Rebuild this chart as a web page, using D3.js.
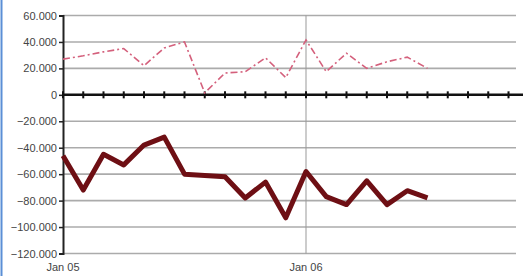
<!DOCTYPE html>
<html>
<head>
<meta charset="utf-8">
<script src="https://cdn.jsdelivr.net/npm/d3@7"></script>
<style>
  body { margin: 0; background: #fff; }
  svg { display: block; font-family: "Liberation Sans", Arial, sans-serif; }
</style>
</head>
<body>
<svg id="chart"></svg>
<script>
// month index 0 = Jan 05
const months = d3.range(0, 19);
const solidValues = [-46000, -72000, -45000, -53000, -38000, -32000, -60000, -61000, -62000,
  -78000, -66000, -93000, -58000, -77000, -83000, -65000, -83000, -72500, -78000];
const dashedValues = [27000, 29500, 32500, 35000, 22000, 35500, 40000, 1500, 16500,
  17500, 28000, 13000, 41500, 17500, 31500, 20000, 25000, 28500, 20000];
const yTicks = [60000, 40000, 20000, 0, -20000, -40000, -60000, -80000, -100000, -120000];
const xLabels = [{ m: 0, label: "Jan 05" }, { m: 12, label: "Jan 06" }];

const width = 523, height = 276;
const margin = { top: 15, left: 63, bottom: 253 };

const svg = d3.select("#chart").attr("width", width).attr("height", height);

const x = d3.scaleLinear().domain([0, 24]).range([margin.left, margin.left + 24 * 20.25]);
const y = d3.scaleLinear().domain([-120000, 60000]).range([253.5, 15.5]);

const fmt = d3.formatLocale({ decimal: ",", thousands: ".", grouping: [3], currency: ["", ""] }).format(",");

// blue frame on the left
svg.append("line")
  .attr("x1", 1.5).attr("x2", 1.5).attr("y1", 0).attr("y2", height)
  .attr("stroke", "#5b8fd6").attr("stroke-width", 2);

// horizontal gridlines
svg.append("g").selectAll("line")
  .data(yTicks.filter(d => d !== 0))
  .join("line")
  .attr("x1", margin.left).attr("x2", 516)
  .attr("y1", d => y(d)).attr("y2", d => y(d))
  .attr("stroke", "#ababab").attr("stroke-width", 1.6);

// vertical gridline at Jan 06
svg.append("line")
  .attr("x1", x(12)).attr("x2", x(12))
  .attr("y1", y(60000)).attr("y2", y(-120000))
  .attr("stroke", "#999").attr("stroke-width", 1);

// y axis
const yAxis = d3.axisLeft(y).tickValues(yTicks).tickFormat(fmt).tickSize(4).tickPadding(2);
const yG = svg.append("g").attr("transform", `translate(${margin.left},0)`).call(yAxis);
yG.select(".domain").attr("stroke", "#222").attr("stroke-width", 2);
yG.selectAll(".tick line").attr("stroke", "#222").attr("stroke-width", 1.5);
yG.selectAll(".tick text").attr("fill", "#444").style("font-size", "11px");

// zero line with month ticks
svg.append("line")
  .attr("x1", margin.left).attr("x2", width)
  .attr("y1", y(0)).attr("y2", y(0))
  .attr("stroke", "#111").attr("stroke-width", 2.5);
svg.append("g").selectAll("line")
  .data(d3.range(0, 24))
  .join("line")
  .attr("x1", d => x(d)).attr("x2", d => x(d))
  .attr("y1", y(0) - 3.5).attr("y2", y(0) + 3.5)
  .attr("stroke", "#111").attr("stroke-width", 2);

// x labels
svg.append("g").selectAll("text")
  .data(xLabels)
  .join("text")
  .attr("x", d => x(d.m)).attr("y", 271)
  .attr("text-anchor", "middle")
  .attr("fill", "#444").style("font-size", "11px")
  .text(d => d.label);

const line = d3.line().x((d, i) => x(months[i])).y(d => y(d));

svg.append("path")
  .datum(dashedValues)
  .attr("d", line)
  .attr("fill", "none")
  .attr("stroke", "#d4607c").attr("stroke-width", 1.6)
  .attr("stroke-dasharray", "7,3,2,3");

svg.append("path")
  .datum(solidValues)
  .attr("d", line)
  .attr("fill", "none")
  .attr("stroke", "#6e0f14").attr("stroke-width", 5)
  .attr("stroke-linejoin", "round");
</script>
</body>
</html>
